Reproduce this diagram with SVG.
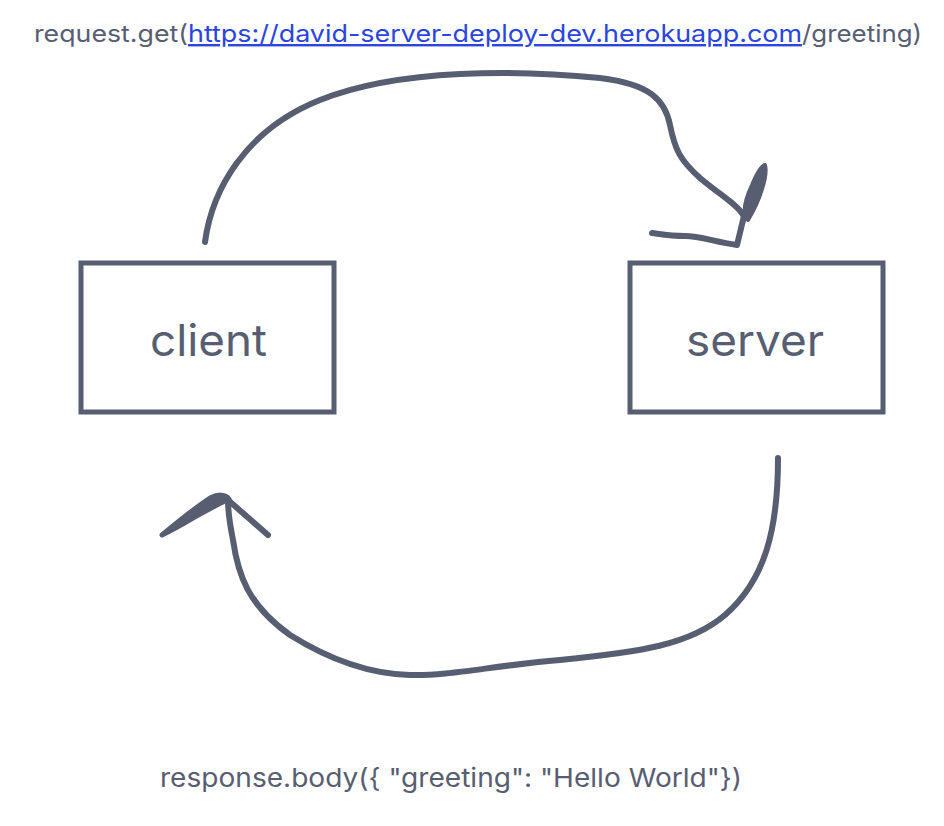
<svg xmlns="http://www.w3.org/2000/svg" width="944" height="826" viewBox="0 0 944 826">
<style>
.box{fill:none;stroke:#585e72;stroke-width:5}
.ln{fill:none;stroke:#585e72;stroke-width:6;stroke-linecap:round;stroke-linejoin:round}
.lbl{font-family:Inter,"Liberation Sans",Arial,sans-serif;fill:#585e72}
.lnk{font-family:Inter,"Liberation Sans",Arial,sans-serif;fill:#2b45e0;text-decoration:underline}
</style>
<rect width="944" height="826" fill="#ffffff"/>
<g id="request-label">
<text class="lbl" x="34" y="42" font-size="24" textLength="154" lengthAdjust="spacingAndGlyphs">request.get(</text>
<text class="lnk" x="188" y="42" font-size="24" textLength="614" lengthAdjust="spacingAndGlyphs">https://david-server-deploy-dev.herokuapp.com</text>
<text class="lbl" x="802" y="42" font-size="24" textLength="120" lengthAdjust="spacingAndGlyphs">/greeting)</text>
</g>
<g id="client">
<rect class="box" x="81" y="263" width="253" height="149"/>
<text class="lbl" x="150" y="356" font-size="44" textLength="117" lengthAdjust="spacingAndGlyphs">client</text>
</g>
<g id="server">
<rect class="box" x="630" y="263" width="253" height="149"/>
<text class="lbl" x="686" y="356" font-size="44" textLength="138" lengthAdjust="spacingAndGlyphs">server</text>
</g>
<g id="connectors">
<path class="ln" d="M205,242 C212,190 245,130 320,100 C400,68 520,70 600,78 C650,84 665,100 670,125 C675,150 680,160 700,178 C720,195 738,205 743,215"/>
<path class="ln" d="M744,216 L737,245 C715,242 700,236 685,236 C670,236 660,234 652,233"/>
<path fill="#585e72" stroke="#585e72" stroke-width="4" stroke-linejoin="round" d="M765,165 C768,175 760,200 748,220 C742,214 745,200 752,185 C757,173 762,165 765,165 Z"/>
<path class="ln" d="M778,458 C778,530 765,580 725,615 C690,645 640,652 560,660 C490,666 450,676 410,675 C370,674 330,660 290,635 C248,605 238,575 233,540 C229,520 228,510 228,500"/>
<path fill="#585e72" stroke="#585e72" stroke-width="5" stroke-linejoin="round" stroke-linecap="round" d="M162,535 C180,520 198,506 210,498 C218,494 226,494 229,499 C222,502 212,508 200,514 C188,521 175,529 162,535 Z"/>
<path class="ln" d="M228,500 L268,535"/>
</g>
<g id="response-label">
<text class="lbl" x="160" y="787" font-size="26" textLength="582" lengthAdjust="spacingAndGlyphs">response.body({ "greeting": "Hello World"})</text>
</g>
</svg>
